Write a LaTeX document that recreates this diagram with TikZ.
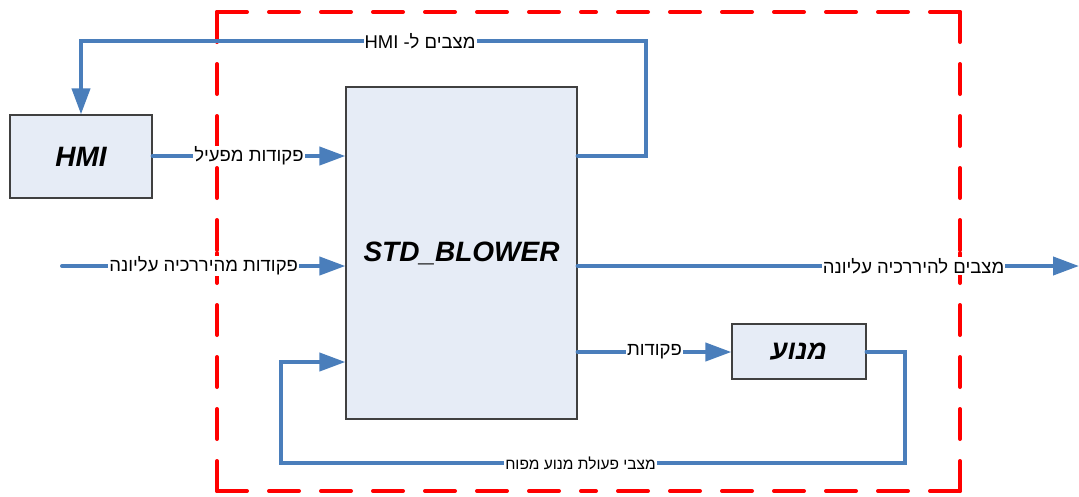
\documentclass[tikz,border=0pt]{standalone}
\usepackage{fontspec}
\setmainfont{Liberation Sans}
\newfontfamily\hebfont[Script=Hebrew]{Liberation Sans}
\TeXXeTstate=1
\usetikzlibrary{arrows.meta,calc}

\definecolor{flowblue}{RGB}{74,126,187}
\definecolor{boxfill}{RGB}{230,236,246}
\definecolor{boxline}{RGB}{64,64,64}

\tikzset{
  block/.style={draw=boxline, line width=1.2pt, fill=boxfill, inner sep=0pt},
  title/.style={font=\fontsize{28}{32}\selectfont\bfseries\itshape},
  flow/.style={draw=flowblue, line width=4pt, line cap=round,
    -{Triangle[length=26pt,width=18pt]}},
  lbl/.style={fill=white, inner sep=1pt, text=black,
    font=\hebfont\fontsize{18.5}{21}\selectfont},
  smalllbl/.style={lbl, font=\hebfont\fontsize{15.5}{18}\selectfont},
  frame/.style={draw=red, line width=4pt, line cap=round,
    dash pattern=on 30pt off 22pt}
}

\begin{document}
\begin{tikzpicture}[x=1pt, y=-1pt]
\useasboundingbox (0,0) rectangle (1079,496);

% dashed system boundary, each side drawn from its corners inward
\foreach \ax/\ay/\bx/\by in {217/12/588.5/12, 960/12/588.5/12,
  217/491/588.5/491, 960/491/588.5/491,
  217/12/217/251.5, 217/491/217/251.5,
  960/12/960/251.5, 960/491/960/251.5}
  \draw[frame] (\ax,\ay) -- (\bx,\by);

% blocks
\node[block, minimum width=142pt, minimum height=83pt] (hmi) at (81,156.5) {};
\node[title] at (hmi.center) {HMI};
\node[block, minimum width=231pt, minimum height=332pt] (blower) at (461.5,253) {};
\node[title] at (blower.center) {STD\_BLOWER};
\node[block, minimum width=134pt, minimum height=55pt] (motor) at (799,351.5) {};
\node[font=\hebfont\fontsize{27}{31}\selectfont\bfseries\itshape] at (motor.center)
  {\beginR מנוע\endR};

% anchor points on the blower block
\coordinate (hmiin)  at (blower.west |- 0,156);
\coordinate (hmiout) at (blower.east |- 0,156);
\coordinate (upin)   at (blower.west |- 0,266);
\coordinate (upout)  at (blower.east |- 0,266);
\coordinate (mcmd)   at (blower.east |- 0,352);
\coordinate (mfb)    at (blower.west |- 0,362);
\coordinate (src)    at (62,266);
\coordinate (dst)    at (1079,266);

% operator commands
\draw[flow] (hmi.east |- 0,156) -- (hmiin)
  node[lbl, pos=0.5] {\beginR פקודות מפעיל\endR};

% status back to the HMI
\draw[flow] (hmiout) -- (646,156) -- (646,41) -- (hmi.north |- 0,41)
  node[lbl, pos=0.4] {\beginR מצבים ל- \beginL HMI\endL\endR}
  -- (hmi.north);

% commands from the upper hierarchy
\draw[flow] (src) -- (upin)
  node[lbl, pos=0.5] {\beginR פקודות מהיררכיה עליונה\endR};

% status to the upper hierarchy
\draw[flow] (upout) -- (dst)
  node[lbl, pos=0.67] {\beginR מצבים להיררכיה עליונה\endR};

% motor commands
\draw[flow] (mcmd) -- (motor.west |- mcmd)
  node[lbl, pos=0.5] {\beginR פקודות\endR};

% motor feedback
\draw[flow] (motor.east) -- (905,351.5) -- (905,463) -- (281,463)
  node[smalllbl, pos=0.52] {\beginR מצבי פעולת מנוע מפוח\endR}
  -- (281,362) -- (mfb);
\end{tikzpicture}
\end{document}
